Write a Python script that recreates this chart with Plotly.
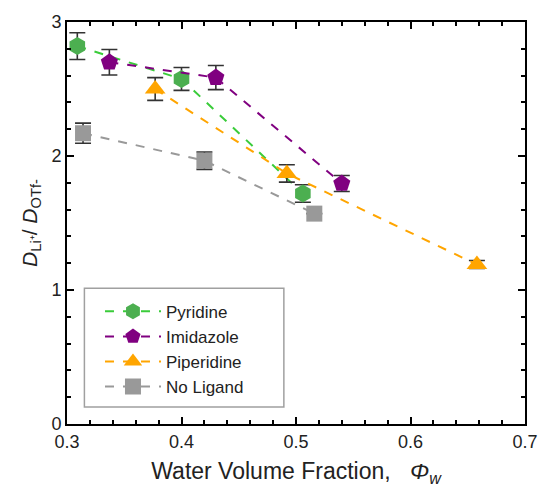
import plotly.graph_objects as go

pyr_x = [0.309, 0.400, 0.506]
pyr_y = [2.82, 2.575, 1.72]
pyr_e = [0.10, 0.085, 0.065]

imi_x = [0.337, 0.430, 0.540]
imi_y = [2.70, 2.585, 1.795]
imi_e = [0.095, 0.09, 0.06]

pip_x = [0.377, 0.492, 0.658]
pip_y = [2.50, 1.87, 1.19]
pip_e = [0.085, 0.065, 0.03]

nol_x = [0.314, 0.420, 0.516]
nol_y = [2.17, 1.965, 1.57]
nol_e = [0.075, 0.065, 0.0]

series = [
    ("Pyridine", pyr_x, pyr_y, pyr_e, "#4CAF50", "#3ACC3A", "hexagon", 18),
    ("Imidazole", imi_x, imi_y, imi_e, "#800080", "#800080", "pentagon", 18),
    ("Piperidine", pip_x, pip_y, pip_e, "#FFA500", "#FFA500", "triangle-up", 18),
    ("No Ligand", nol_x, nol_y, nol_e, "#999999", "#999999", "square", 16),
]

FONT = "Liberation Sans, Arial, sans-serif"

fig = go.Figure()
for name, x, y, e, mc, lc, sym, sz in series:
    fig.add_trace(go.Scatter(
        x=x, y=y, name=name, mode="lines+markers",
        line=dict(color=lc, width=2, dash="dash"),
        marker=dict(color=mc, symbol=sym, size=sz),
        error_y=dict(type="data", array=e, color="#333333", thickness=1.6, width=8, visible=True),
    ))

axis_common = dict(
    showline=True, linecolor="black", linewidth=2, mirror="ticks",
    ticks="inside", tickcolor="black", tickwidth=2, ticklen=7,
    showgrid=False, zeroline=False,
    tickfont=dict(family=FONT, size=18, color="#222"),
)

fig.update_layout(
    width=550, height=493,
    margin=dict(l=67, r=12, t=21, b=69),
    paper_bgcolor="white", plot_bgcolor="white",
    font=dict(family=FONT, color="#222"),
    xaxis=dict(range=[0.3, 0.7], dtick=0.1, tickformat=".1f",
               minor=dict(dtick=0.02, ticks="inside", ticklen=4, tickcolor="black", tickwidth=2),
               title=dict(text="Water Volume Fraction,   <i>Φ<sub>w</sub></i>", font=dict(size=23), standoff=12),
               **axis_common),
    yaxis=dict(range=[0, 3], dtick=1,
               minor=dict(dtick=0.2, ticks="inside", ticklen=4, tickcolor="black", tickwidth=2),
               title=dict(text="<i>D</i><sub>Li⁺</sub>/ <i>D</i><sub>OTf-</sub>", font=dict(size=21), standoff=8),
               **axis_common),
    legend=dict(x=0.072, y=0.324, xanchor="left", yanchor="top",
                borderwidth=0, bgcolor="rgba(0,0,0,0)",
                font=dict(size=17, color="#222"), itemwidth=56,
                tracegroupgap=0),
    shapes=[dict(type="rect", xref="paper", yref="paper",
                 x0=0.038, x1=0.4735, y0=0.042, y1=0.3375,
                 line=dict(color="#a0a0a0", width=1.5), fillcolor="rgba(0,0,0,0)", layer="above")],
    showlegend=True,
)

fig.write_html("out.html")
